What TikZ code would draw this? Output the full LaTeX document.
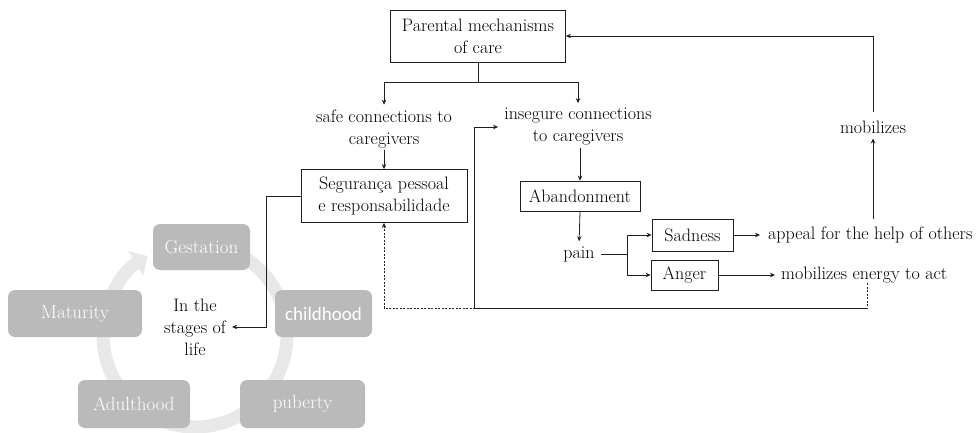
\documentclass[tikz,border=0pt]{standalone}
\usepackage{fontspec}
\newfontfamily\calfont{Carlito}
\usetikzlibrary{arrows.meta}
\definecolor{stagegray}{RGB}{186,186,186}
\definecolor{ringgray}{RGB}{232,232,232}
\definecolor{linegray}{RGB}{30,30,30}

\begin{document}
\begin{tikzpicture}[x=1pt,y=-1pt,
  txt/.style={font=\fontsize{18}{22}\selectfont, inner sep=0pt, align=center},
  ebox/.style={txt, draw=linegray, line width=0.8pt, rectangle},
  conn/.style={draw=linegray, line width=0.8pt, -{Stealth[length=5pt,width=4.5pt]}},
  plain/.style={draw=linegray, line width=0.8pt},
  stage/.style={fill=stagegray, rounded corners=7pt, text=white, inner sep=0pt,
                font=\fontsize{19}{22}\selectfont}]
\useasboundingbox (0,0) rectangle (979,433);

% life-cycle ring with its arrowhead
\coordinate (cc) at (195,335);
\draw[ringgray, line width=13pt, -{Triangle[length=14pt,width=28pt]}]
  (cc) ++(-80:92) arc[start angle=-80, end angle=239, radius=92];

% stages of life
\node[stage, minimum width=97pt, minimum height=46pt] (gest) at (201.5,247) {Gestation};
\node[stage, minimum width=97pt, minimum height=47pt, font=\calfont\fontsize{19}{22}\selectfont] (child) at (323.5,313.5) {childhood};
\node[stage, minimum width=125pt, minimum height=48pt] (pub) at (302.5,404) {puberty};
\node[stage, minimum width=112pt, minimum height=48pt] (adult) at (134,404) {Adulthood};
\node[stage, minimum width=134pt, minimum height=47pt] (mat) at (75,313.5) {Maturity};
\node[txt] (stages) at (195,327) {In the\\stages of\\life};

% upper flow
\node[ebox, minimum width=175pt, minimum height=52pt] (parent) at (478,36) {Parental mechanisms\\of care};
\node[txt] (safe) at (384,129) {safe connections to\\caregivers};
\node[txt] (insec) at (578,127) {insegure connections\\to caregivers};
\node[ebox, minimum width=166pt, minimum height=53pt] (seg) at (384,196) {Segurança pessoal\\e responsabilidade};
\node[ebox, minimum width=120pt, minimum height=30pt] (aband) at (580,196) {Abandonment};
\node[txt] (pain) at (579,254) {pain};
\node[ebox, minimum width=81pt, minimum height=32pt] (sad) at (692.5,235) {Sadness};
\node[ebox, minimum width=67pt, minimum height=30pt] (anger) at (684.5,275) {Anger};
\node[txt, anchor=west] (appeal) at (768,235) {appeal for the help of others};
\node[txt, anchor=west] (energy) at (781,275) {mobilizes energy to act};
\node[txt] (mob) at (873,127) {mobilizes};

% branching points and corners
\coordinate (split) at (478,82);
\coordinate (fork) at (627,254);
\coordinate (loop) at (867,308);

% connectors
\draw[plain] (parent.south) -- (split);
\draw[conn] (split) -| ([yshift=5pt]safe.north);
\draw[conn] (split) -| ([yshift=5pt]insec.north);
\draw[conn, shorten <=2pt] (safe.south) -- (seg.north);
\draw[conn, shorten <=2pt] (aband.north |- insec.south) -- (aband.north);
\draw[conn, shorten >=5pt] (aband.south) -- (pain.north);
\draw[plain, shorten <=6pt] (pain.east) -- (fork);
\draw[conn] (fork) |- (sad.west);
\draw[conn] (fork) |- (anger.west);
\draw[conn, shorten >=8pt] (sad.east) -- (appeal.west);
\draw[conn, shorten >=6pt] (anger.east) -- (energy.west);
\draw[conn, shorten <=8pt, shorten >=5pt] (mob.south |- appeal.north) -- (mob.south);
\draw[conn, shorten <=8pt] (mob.north) |- (parent.east);
\draw[conn, shorten >=6pt] (seg.west) -- ++(-34,0) |- (stages.east);
\draw[conn, dashed, dash pattern=on 2pt off 1.5pt] (loop |- energy.south) -- (loop) -| (seg.south);
\draw[conn, shorten >=6pt] (loop) -- (474,308) |- (insec.west);
\end{tikzpicture}
\end{document}
